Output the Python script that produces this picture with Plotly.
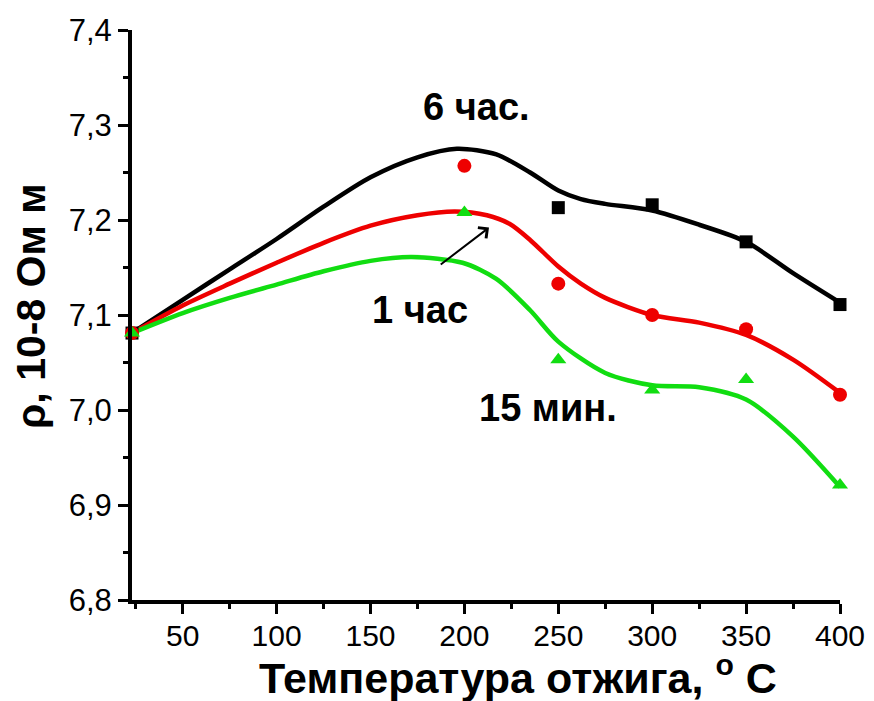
import plotly.graph_objects as go

# ---- data ----
# smooth curves
curve_x_black = [23, 50, 75, 100, 125, 150, 175, 196, 217, 235, 250, 262, 275, 300, 325, 350, 375, 400]
curve_y_black = [7.081, 7.116, 7.148, 7.180, 7.214, 7.245, 7.266, 7.275, 7.269, 7.250, 7.231, 7.222, 7.217, 7.210, 7.195, 7.177, 7.144, 7.113]

curve_x_red = [23, 50, 75, 100, 125, 150, 175, 195, 212, 224, 235, 250, 262, 275, 300, 325, 350, 375, 400]
curve_y_red = [7.081, 7.110, 7.133, 7.155, 7.176, 7.194, 7.205, 7.209, 7.205, 7.196, 7.179, 7.151, 7.133, 7.118, 7.100, 7.092, 7.079, 7.053, 7.018]

curve_x_green = [23, 50, 75, 100, 125, 150, 172, 199, 217, 235, 250, 275, 300, 325, 350, 375, 400]
curve_y_green = [7.081, 7.102, 7.118, 7.132, 7.146, 7.157, 7.161, 7.155, 7.138, 7.105, 7.072, 7.039, 7.026, 7.024, 7.011, 6.972, 6.919]

# measured points
pts_x_black = [23, 250, 300, 350, 400]
pts_y_black = [7.081, 7.213, 7.216, 7.177, 7.111]

pts_x_red = [23, 200, 250, 300, 350, 400]
pts_y_red = [7.081, 7.257, 7.133, 7.100, 7.085, 7.016]

pts_x_green = [23, 200, 250, 300, 350, 400]
pts_y_green = [7.081, 7.208, 7.053, 7.021, 7.032, 6.921]

x_tickvals = [50, 100, 150, 200, 250, 300, 350, 400]
x_ticktext = ["50", "100", "150", "200", "250", "300", "350", "400"]
y_tickvals = [6.8, 6.9, 7.0, 7.1, 7.2, 7.3, 7.4]
y_ticktext = ["6,8", "6,9", "7,0", "7,1", "7,2", "7,3", "7,4"]

BLACK = "#000000"
RED = "#ee0000"
GREEN = "#11dd11"

fig = go.Figure()

for cx, cy, col in [(curve_x_black, curve_y_black, BLACK),
                    (curve_x_red, curve_y_red, RED),
                    (curve_x_green, curve_y_green, GREEN)]:
    fig.add_trace(go.Scatter(x=cx, y=cy, mode="lines",
                             line=dict(color=col, width=4.5, shape="spline", smoothing=0.8),
                             cliponaxis=False, showlegend=False, hoverinfo="skip"))

fig.add_trace(go.Scatter(x=pts_x_black, y=pts_y_black, mode="markers",
                         marker=dict(symbol="square", size=13, color=BLACK),
                         cliponaxis=False, showlegend=False))
fig.add_trace(go.Scatter(x=pts_x_red, y=pts_y_red, mode="markers",
                         marker=dict(symbol="circle", size=14, color=RED),
                         cliponaxis=False, showlegend=False))
fig.add_trace(go.Scatter(x=pts_x_green, y=pts_y_green, mode="markers",
                         marker=dict(symbol="triangle-up", size=14, color=GREEN),
                         cliponaxis=False, showlegend=False))

FONT = "Liberation Sans, Arial, sans-serif"

fig.update_layout(
    template="none",
    width=866, height=693,
    margin=dict(l=124, r=34, t=22, b=101, autoexpand=False),
    plot_bgcolor="white", paper_bgcolor="white",
    font=dict(family=FONT, color="black"),
    xaxis=dict(range=[23, 400], showgrid=False, zeroline=False, automargin=False,
               showline=True, linecolor="black", linewidth=4,
               ticks="outside", ticklen=10, tickwidth=3, tickcolor="black",
               tickvals=x_tickvals, ticktext=x_ticktext, ticklabelstandoff=-4,
               tickfont=dict(size=30, family=FONT, color="black"),
               minor=dict(ticks="outside", ticklen=5, tickwidth=3, tickcolor="black", dtick=25, tick0=0)),
    yaxis=dict(range=[6.8, 7.4], showgrid=False, zeroline=False, automargin=False,
               showline=True, linecolor="black", linewidth=4,
               ticks="outside", ticklen=10, tickwidth=3, tickcolor="black",
               tickvals=y_tickvals, ticktext=y_ticktext,
               tickfont=dict(size=31, family=FONT, color="black"),
               minor=dict(ticks="outside", ticklen=5, tickwidth=3, tickcolor="black", dtick=0.05, tick0=6.8)),
)

# axis titles as annotations for exact placement
fig.add_annotation(xref="paper", yref="paper", x=(518 - 132) / 708, y=(600 - 675) / 570,
                   text="<b>Температура отжига, <sup>o</sup> С</b>", showarrow=False,
                   xanchor="center", yanchor="middle",
                   font=dict(size=43, family=FONT, color="black"))
fig.add_annotation(xref="paper", yref="paper", x=(31 - 132) / 708, y=(600 - 306) / 570,
                   text="<b>ρ, 10-8 Ом м</b>", showarrow=False, textangle=-90,
                   xanchor="center", yanchor="middle",
                   font=dict(size=41, family=FONT, color="black"))

# series labels
fig.add_annotation(x=206.7, y=7.319, text="<b>6 час.</b>", showarrow=False,
                   font=dict(size=38, family=FONT, color="black"))
fig.add_annotation(x=176.5, y=7.105, text="<b>1 час</b>", showarrow=False,
                   font=dict(size=38, family=FONT, color="black"))
fig.add_annotation(x=244.5, y=7.002, text="<b>15 мин.</b>", showarrow=False,
                   font=dict(size=38, family=FONT, color="black"))

# arrow pointing at the 1-hour curve
fig.add_annotation(x=213.1, y=7.192, ax=186.6, ay=7.152, xref="x", yref="y",
                   axref="x", ayref="y", text="", showarrow=True,
                   arrowhead=4, arrowsize=1.3, arrowwidth=2, arrowcolor="black")

fig.write_html("out.html")
